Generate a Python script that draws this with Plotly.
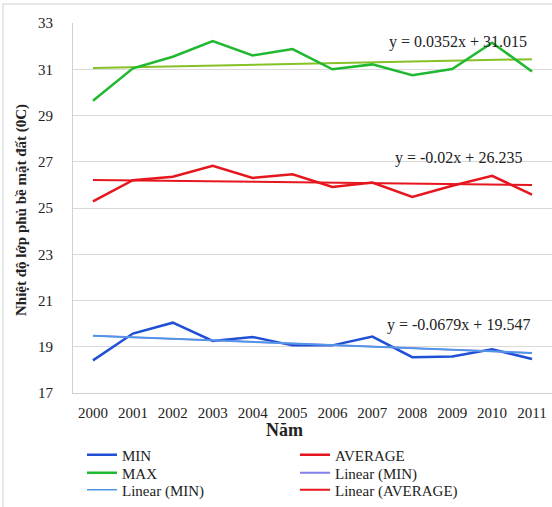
import plotly.graph_objects as go

years = ["2000", "2001", "2002", "2003", "2004", "2005", "2006", "2007", "2008", "2009", "2010", "2011"]
t_min = [18.41, 19.57, 20.04, 19.25, 19.42, 19.06, 19.06, 19.44, 18.55, 18.58, 18.89, 18.47]
t_avg = [25.29, 26.20, 26.35, 26.82, 26.30, 26.46, 25.91, 26.10, 25.48, 25.96, 26.39, 25.58]
t_max = [29.64, 31.04, 31.54, 32.22, 31.60, 31.87, 31.00, 31.21, 30.74, 31.01, 32.15, 30.90]

# trendline coefficients (x = 1..12)
coef_min = (-0.0679, 19.547)
coef_avg = (-0.02, 26.235)
coef_max = (0.0352, 31.015)
eq_min = "y = -0.0679x + 19.547"
eq_avg = "y = -0.02x + 26.235"
eq_max = "y = 0.0352x + 31.015"

xi = list(range(1, len(years) + 1))
def trend(c):
    return [c[0] * i + c[1] for i in xi]

FONT = "Liberation Serif"
fig = go.Figure()

C_MIN = "#1F4FD4"
C_AVG = "#E5161D"
C_MAX = "#20B830"

# trend lines (behind)
fig.add_trace(go.Scatter(x=years, y=trend(coef_max), mode="lines", line=dict(color="#86C226", width=2), showlegend=False))
fig.add_trace(go.Scatter(x=years, y=trend(coef_avg), mode="lines", line=dict(color=C_AVG, width=2), showlegend=False))

fig.add_trace(go.Scatter(x=years, y=t_min, name="MIN", mode="lines", line=dict(color=C_MIN, width=2.5), legend="legend"))
fig.add_trace(go.Scatter(x=years, y=t_avg, name="AVERAGE", mode="lines", line=dict(color=C_AVG, width=2.5), legend="legend"))
fig.add_trace(go.Scatter(x=years, y=t_max, name="MAX", mode="lines", line=dict(color=C_MAX, width=2.5), legend="legend2"))
fig.add_trace(go.Scatter(x=years, y=trend(coef_min), name="Linear (MIN)", mode="lines", line=dict(color="#8080E8", width=2), legend="legend2"))
fig.add_trace(go.Scatter(x=years, y=trend(coef_min), name="Linear (MIN)", mode="lines", line=dict(color="#4A98E6", width=1.5), legend="legend3"))
fig.add_trace(go.Scatter(x=[None], y=[None], name="Linear (AVERAGE)", mode="lines", line=dict(color=C_AVG, width=2), legend="legend3"))

def leg(py):
    return dict(orientation="h", x=9 / 479, xanchor="left", y=(393 - py) / 370, yanchor="middle",
                entrywidth=168, entrywidthmode="pixels", font=dict(size=15, family=FONT, color="#222"),
                traceorder="normal", itemwidth=30, bgcolor="rgba(0,0,0,0)")

fig.update_layout(
    width=552, height=507,
    margin=dict(l=73, r=0, t=23, b=114, autoexpand=False),
    paper_bgcolor="white", plot_bgcolor="white",
    font=dict(family=FONT, size=15, color="#222"),
    xaxis=dict(type="category", range=[-0.5, 11.5], showgrid=False, showline=True, linecolor="#d0d0d0", linewidth=1,
               ticks="outside", ticklen=6, tickcolor="rgba(0,0,0,0)", tickfont=dict(size=15, family=FONT), fixedrange=True),
    yaxis=dict(range=[17, 33], dtick=2, tick0=17, showgrid=True, gridcolor="#d9d9d9", gridwidth=1,
               showline=True, linecolor="#d0d0d0", zeroline=False,
               ticks="outside", ticklen=16, tickcolor="rgba(0,0,0,0)", tickfont=dict(size=15, family=FONT)),
    showlegend=True,
    legend=leg(455), legend2=leg(473), legend3=leg(490),
)

fig.add_annotation(text="<b>Nhiệt độ lớp phủ bề mặt đất (0C)</b>", textangle=-90, xref="paper", yref="paper",
                   x=(22 - 73) / 479, y=(393 - 210) / 370, showarrow=False,
                   font=dict(size=15, family=FONT, color="#222"), xanchor="center", yanchor="middle")
fig.add_annotation(text="<b>Năm</b>", xref="paper", yref="paper", x=(284 - 73) / 479, y=(393 - 430) / 370,
                   showarrow=False, font=dict(size=18, family=FONT, color="#222"), xanchor="center", yanchor="middle")

for txt, py in [(eq_max, 42), (eq_avg, 158), (eq_min, 325)]:
    fig.add_annotation(text=txt, xref="paper", yref="paper", x=(458 - 73) / 479, y=(393 - py) / 370,
                       showarrow=False, font=dict(size=16, family=FONT, color="#222"), xanchor="center", yanchor="middle")

# outer chart border
fig.add_shape(type="rect", xref="paper", yref="paper", x0=(3 - 73) / 479, x1=1.05, y0=-0.35, y1=(393 - 4) / 370,
              line=dict(color="#cfcfcf", width=1), fillcolor="rgba(0,0,0,0)", layer="below")

fig.write_html("out.html")
